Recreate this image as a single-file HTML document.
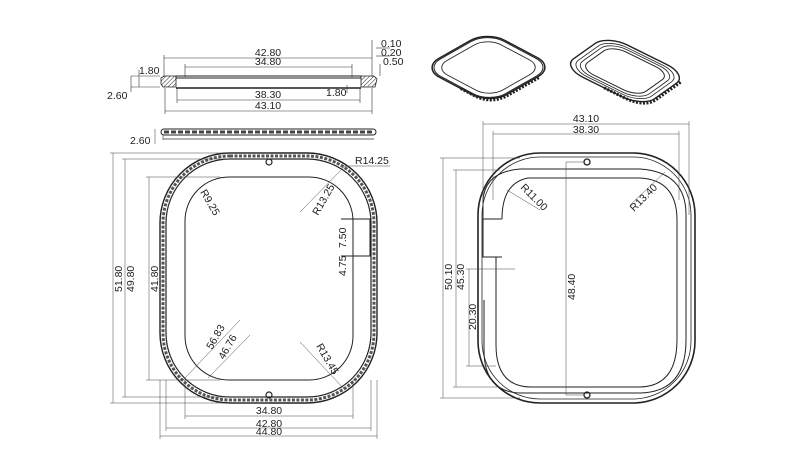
<!DOCTYPE html>
<html><head><meta charset="utf-8"><style>
html,body{margin:0;padding:0;background:#fff;}
svg{display:block}
text{font-family:"Liberation Sans",sans-serif;font-size:10.5px;fill:#222}
</style></head><body>
<svg width="800" height="469" viewBox="0 0 800 469" xmlns="http://www.w3.org/2000/svg">
<defs>
<pattern id="h" width="3" height="3" patternUnits="userSpaceOnUse" patternTransform="rotate(45)"><line x1="0" y1="0" x2="0" y2="3" stroke="#222" stroke-width="1"/></pattern>
</defs>
<g fill="none" stroke="#333" stroke-width="0.6">
<line x1="164" y1="58" x2="372" y2="58"/><line x1="164" y1="55" x2="164" y2="77"/><line x1="372" y1="40" x2="372" y2="77"/>
<line x1="185" y1="67" x2="352" y2="67"/><line x1="185" y1="64" x2="185" y2="77"/><line x1="352" y1="64" x2="352" y2="77"/>
<line x1="177" y1="100" x2="360" y2="100"/><line x1="177" y1="88" x2="177" y2="103"/><line x1="360" y1="88" x2="360" y2="103"/>
<line x1="165" y1="111" x2="372" y2="111"/><line x1="165" y1="88" x2="165" y2="114"/><line x1="372" y1="88" x2="372" y2="114"/>
<line x1="131" y1="76" x2="160" y2="76"/><line x1="131" y1="87" x2="160" y2="87"/><line x1="131" y1="76" x2="131" y2="92"/>
<line x1="139" y1="70" x2="139" y2="87"/>
<line x1="347" y1="85" x2="347" y2="93"/>
<line x1="376" y1="48" x2="390" y2="48"/><line x1="376" y1="56" x2="390" y2="56"/><line x1="380" y1="64" x2="380" y2="76"/>
</g>
<g stroke="#222" stroke-width="1" fill="none">
<rect x="176" y="76" width="185" height="2"/>
<line x1="176" y1="88" x2="361" y2="88" stroke-width="1.4"/>
</g>
<path d="M161 78 L164 76 L176 76 L176 87 L163 87 L161 84Z" fill="url(#h)" stroke="#222" stroke-width="0.8"/>
<path d="M361 76 L374 76 L377 79 L375 87 L361 87Z" fill="url(#h)" stroke="#222" stroke-width="0.8"/>
<text x="268" y="56" text-anchor="middle">42.80</text>
<text x="268" y="65" text-anchor="middle">34.80</text>
<text x="139" y="74">1.80</text>
<text x="107" y="99">2.60</text>
<text x="268" y="98" text-anchor="middle">38.30</text>
<text x="268" y="109" text-anchor="middle">43.10</text>
<text x="326" y="96">1.80</text>
<text x="381" y="47">0.10</text><text x="381" y="56">0.20</text><text x="383" y="65">0.50</text>
<rect x="161" y="129" width="215" height="6" rx="3" fill="none" stroke="#222" stroke-width="1"/>
<line x1="164" y1="132" x2="374" y2="132" stroke="#444" stroke-width="3" stroke-dasharray="5 2"/>
<line x1="163" y1="139" x2="374" y2="139" stroke="#333" stroke-width="0.8"/>
<line x1="163" y1="135" x2="163" y2="140" stroke="#333" stroke-width="0.6"/>
<line x1="155" y1="129" x2="155" y2="144" stroke="#333" stroke-width="0.5"/>
<text x="130" y="144">2.60</text>

<g fill="none" stroke="#222">
<rect x="160" y="153" width="217" height="250" rx="70" stroke-width="1.4"/>
<rect x="166" y="159" width="205" height="238" rx="64" stroke-width="1.2"/>
<rect x="163" y="156" width="211" height="244" rx="67" stroke-width="3" stroke-dasharray="3 1.5" stroke="#555"/>
<path d="M341 219 L370 219 L370 256 L341 256" stroke-width="1"/>
<rect x="185" y="177" width="168" height="203" rx="44" stroke-width="1"/>
<circle cx="269" cy="162" r="3" stroke-width="1.2"/>
<circle cx="269" cy="395" r="3" stroke-width="1.2"/>
</g>
<g fill="none" stroke="#444" stroke-width="0.5">
<line x1="113" y1="153" x2="113" y2="403"/><line x1="110" y1="153" x2="269" y2="153"/><line x1="110" y1="403" x2="269" y2="403"/>
<line x1="125" y1="159" x2="125" y2="397"/><line x1="122" y1="159" x2="269" y2="159"/><line x1="122" y1="397" x2="269" y2="397"/>
<line x1="149" y1="177" x2="149" y2="380"/><line x1="146" y1="177" x2="220" y2="177"/><line x1="146" y1="380" x2="220" y2="380"/>
<line x1="185" y1="416" x2="353" y2="416"/><line x1="185" y1="380" x2="185" y2="419"/><line x1="353" y1="380" x2="353" y2="419"/>
<line x1="166" y1="428" x2="371" y2="428"/><line x1="166" y1="380" x2="166" y2="431"/><line x1="371" y1="380" x2="371" y2="431"/>
<line x1="160" y1="436" x2="377" y2="436"/><line x1="160" y1="380" x2="160" y2="439"/><line x1="377" y1="380" x2="377" y2="439"/>
<line x1="345" y1="166" x2="300" y2="212"/><line x1="345" y1="166" x2="390" y2="166"/>
<line x1="185" y1="378" x2="240" y2="320"/><line x1="208" y1="378" x2="250" y2="335"/>
<line x1="300" y1="342" x2="345" y2="390"/>
</g>
<text x="355" y="164">R14.25</text>
<text transform="translate(200,192) rotate(60)">R9.25</text>
<text transform="translate(318,216) rotate(-60)">R13.25</text>
<text transform="translate(346,248) rotate(-90)">7.50</text>
<text transform="translate(346,276) rotate(-90)">4.75</text>
<text transform="translate(122,292) rotate(-90)">51.80</text>
<text transform="translate(134,292) rotate(-90)">49.80</text>
<text transform="translate(158,292) rotate(-90)">41.80</text>
<text transform="translate(212,350) rotate(-60)">56.83</text>
<text transform="translate(224,360) rotate(-60)">46.76</text>
<text transform="translate(316,346) rotate(60)">R13.45</text>
<text x="269" y="414" text-anchor="middle">34.80</text>
<text x="269" y="427" text-anchor="middle">42.80</text>
<text x="269" y="435" text-anchor="middle">44.80</text>

<g fill="none" stroke="#222">
<rect x="478" y="153" width="217" height="250" rx="62" stroke-width="1.6"/>
<rect x="482" y="157" width="209" height="242" rx="58" stroke-width="0.8"/>
<path d="M483 219 L483 257 L502 257" stroke-width="1"/>
<path d="M502 219 L483 219 L483 200 Q485 172 520 169 L640 169 Q686 172 686 215 L686 340 Q686 392 640 393 L520 393 Q484 392 484 350 L484 300" stroke-width="1"/>
<path d="M502 219 Q502 183 528 178 L640 178 Q677 180 677 220 L677 340 Q677 386 640 387 L530 387 Q496 386 496 345 L496 257" stroke-width="1"/>
<circle cx="587" cy="162" r="3" stroke-width="1.3"/>
<circle cx="587" cy="395" r="3" stroke-width="1.3"/>
</g>
<g fill="none" stroke="#444" stroke-width="0.5">
<line x1="483" y1="124" x2="689" y2="124"/><line x1="483" y1="121" x2="483" y2="219"/><line x1="689" y1="121" x2="689" y2="215"/>
<line x1="493" y1="134" x2="679" y2="134"/><line x1="493" y1="131" x2="493" y2="200"/><line x1="679" y1="131" x2="679" y2="200"/>
<line x1="443" y1="158" x2="443" y2="398"/><line x1="440" y1="158" x2="520" y2="158"/><line x1="440" y1="398" x2="520" y2="398"/>
<line x1="456" y1="170" x2="456" y2="387"/><line x1="453" y1="170" x2="500" y2="170"/><line x1="453" y1="387" x2="500" y2="387"/>
<line x1="469" y1="269" x2="469" y2="366"/><line x1="466" y1="269" x2="515" y2="269"/><line x1="466" y1="366" x2="496" y2="366"/>
<line x1="566" y1="162" x2="566" y2="395"/><line x1="566" y1="162" x2="584" y2="162"/><line x1="566" y1="395" x2="584" y2="395"/>
<line x1="507" y1="190" x2="540" y2="210"/><line x1="665" y1="172" x2="630" y2="205"/>
</g>
<text x="586" y="122" text-anchor="middle">43.10</text>
<text x="586" y="133" text-anchor="middle">38.30</text>
<text transform="translate(520,188) rotate(45)">R11.00</text>
<text transform="translate(634,212) rotate(-45)">R13.40</text>
<text transform="translate(452,290) rotate(-90)">50.10</text>
<text transform="translate(464,290) rotate(-90)">45.30</text>
<text transform="translate(476,330) rotate(-90)">20.30</text>
<text transform="translate(575,300) rotate(-90)">48.40</text>

<g transform="matrix(0.65,-0.37,0.68,0.36,422,68)" fill="none" stroke="#222">
<rect x="0" y="0" width="100" height="100" rx="26" vector-effect="non-scaling-stroke" stroke-width="1.5"/>
<rect x="2" y="2" width="96" height="96" rx="24" vector-effect="non-scaling-stroke" stroke-width="1"/>
<path d="M0 55 L0 74 Q0 100 26 100 L75 100" vector-effect="non-scaling-stroke" stroke-width="3" stroke-dasharray="2 1.5" transform="translate(0,2)"/>
<rect x="9" y="9" width="82" height="82" rx="20" vector-effect="non-scaling-stroke" stroke-width="0.9"/>
</g>
<g transform="matrix(0.45,-0.32,0.81,0.40,562,67)" fill="none" stroke="#222">
<rect x="0" y="0" width="100" height="100" rx="26" vector-effect="non-scaling-stroke" stroke-width="1.4"/>
<path d="M0 50 L0 74 Q0 100 26 100 L80 100" vector-effect="non-scaling-stroke" stroke-width="3" stroke-dasharray="2 1.5" transform="translate(0,2)"/>
<rect x="5" y="5" width="90" height="90" rx="23" vector-effect="non-scaling-stroke" stroke-width="0.8"/>
<rect x="9" y="9" width="82" height="82" rx="21" vector-effect="non-scaling-stroke" stroke-width="0.8"/>
<rect x="14" y="14" width="72" height="72" rx="18" vector-effect="non-scaling-stroke" stroke-width="1"/>
</g>
</svg>
</body></html>
